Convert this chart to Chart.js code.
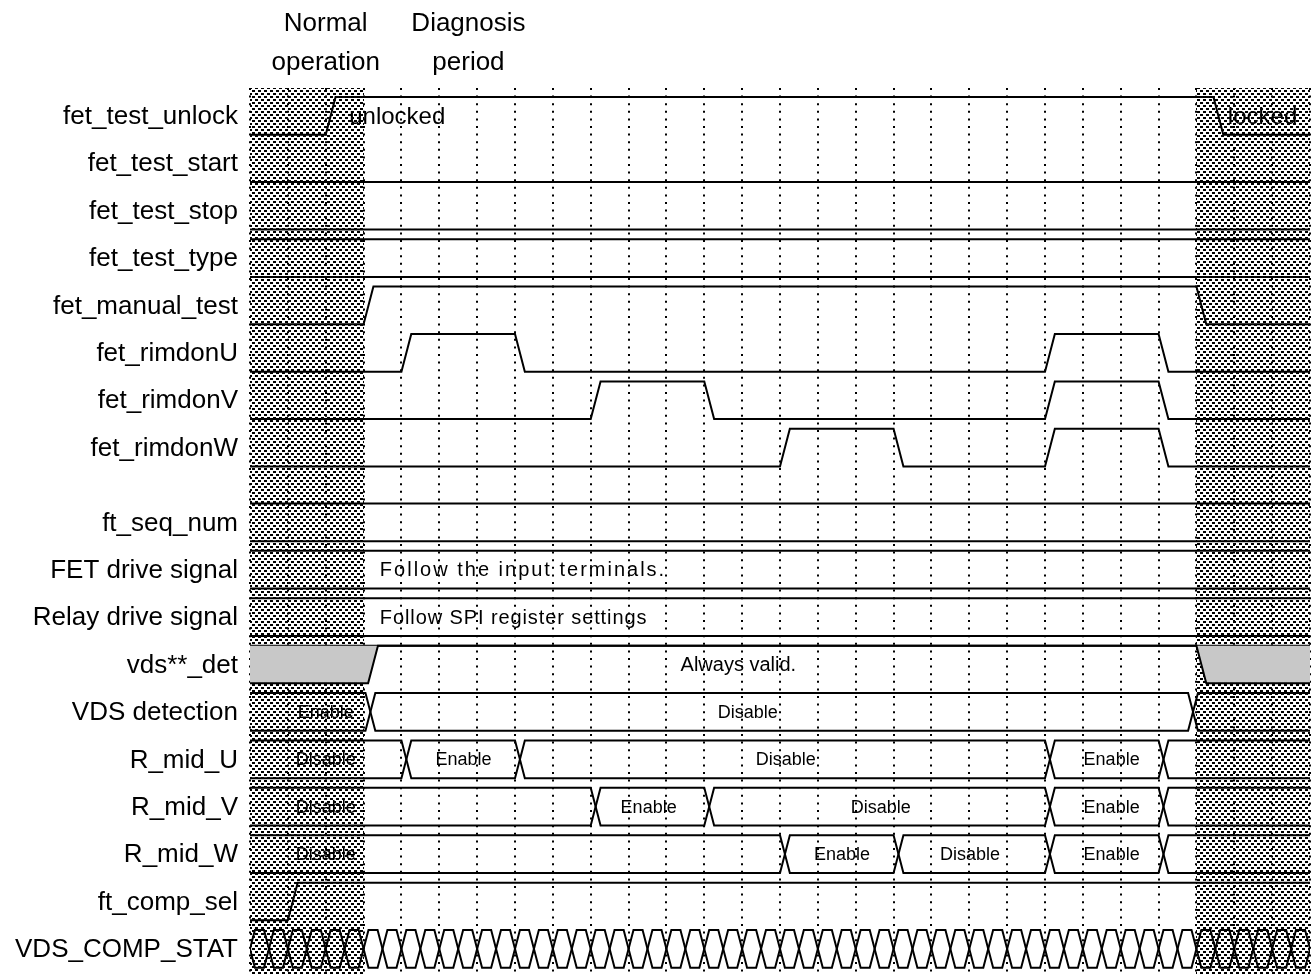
<!DOCTYPE html>
<html>
<head>
<meta charset="utf-8">
<script src="https://cdn.jsdelivr.net/npm/chart.js@4/dist/chart.umd.min.js"></script>
<style>
html, body { margin: 0; background: #fff; }
#wrap { width: 1314px; height: 974px; }
</style>
</head>
<body>
<div id="wrap"><canvas id="chart"></canvas></div>
<script>
// ---- data (time in grid periods, 0..28) ----
const signalNames = ['fet_test_unlock', 'fet_test_start', 'fet_test_stop', 'fet_test_type',
	'fet_manual_test', 'fet_rimdonU', 'fet_rimdonV', 'fet_rimdonW', 'ft_seq_num',
	'FET drive signal', 'Relay drive signal', 'vds**_det', 'VDS detection',
	'R_mid_U', 'R_mid_V', 'R_mid_W', 'ft_comp_sel', 'VDS_COMP_STAT'];

const timeTicks = [0, 1, 2, 3, 4, 5, 6, 7, 8, 9, 10, 11, 12, 13, 14, 15, 16, 17, 18, 19, 20,
	21, 22, 23, 24, 25, 26, 27, 28];

const phaseLines = [['Normal', 'operation'], ['Diagnosis', 'period']];
const phaseTimes = [2, 5.77];

// undefined (hatched) spans
const hatchSpans = [[0, 3], [25, 28]];

// digital waves: all start low, each entry is the time an edge begins
const edgesUnlock = [2, 25.45];
const edgesStart = [];
const edgesStop = [];
const edgesManual = [3, 25];
const edgesRimU = [4, 7, 21, 24];
const edgesRimV = [9, 12, 21, 24];
const edgesRimW = [14, 17, 21, 24];
const edgesVdsDet = [3.12, 25];
const edgesCompSel = [1];

// buses: times where a value change (crossing) begins
const crossTestType = [];
const crossSeqNum = [];
const crossFetDrive = [];
const crossRelay = [];
const crossVdsDetection = [3.05, 24.78];
const crossRmidU = [4, 7, 21, 24];
const crossRmidV = [9, 12, 21, 24];
const crossRmidW = [14, 17, 21, 24];
const crossCompStat = [-0.13, 0.37, 0.87, 1.37, 1.87, 2.37, 2.87, 3.37, 3.87, 4.37, 4.87, 5.37,
	5.87, 6.37, 6.87, 7.37, 7.87, 8.37, 8.87, 9.37, 9.87, 10.37, 10.87, 11.37, 11.87, 12.37,
	12.87, 13.37, 13.87, 14.37, 14.87, 15.37, 15.87, 16.37, 16.87, 17.37, 17.87, 18.37, 18.87,
	19.37, 19.87, 20.37, 20.87, 21.37, 21.87, 22.37, 22.87, 23.37, 23.87, 24.37, 24.87, 25.37,
	25.87, 26.37, 26.87, 27.37, 27.87];

// bus values [text, time of text centre]
const valuesVdsDetection = [['Enable', 2], ['Disable', 13.15]];
const valuesRmidU = [['Disable', 2], ['Enable', 5.64], ['Disable', 14.15], ['Enable', 22.76]];
const valuesRmidV = [['Disable', 2], ['Enable', 10.53], ['Disable', 16.66], ['Enable', 22.76]];
const valuesRmidW = [['Disable', 2], ['Enable', 15.64], ['Disable', 19.02], ['Enable', 22.76]];

// free notes [text, row, time]
const notes = [
	['unlocked', 0, 2.62],
	['locked', 0, 25.83],
	['Follow the input terminals.', 9, 3.43],
	['Follow SPI register settings', 10, 3.43],
	['Always valid.', 11, 12.9]
];

// ---- layout / style ----
const rowTop = [0, 1, 2, 3, 4, 5, 6, 7, 8.575, 9.575, 10.575, 11.575, 12.575, 13.575, 14.575,
	15.575, 16.575, 17.575];
const noteAlign = ['left', 'left', 'left', 'left', 'center'];
const noteSize = [24, 24, 20, 20, 20];
const noteSpacing = [0, 0, 2, 0.9, 0];
const AMP = 0.795;     // high -> low distance in row units
const EDGE = 0.26;     // edge / crossing width in time units
const GRID_TOP = -0.19;
const FONT = '"Liberation Sans", Arial, sans-serif';

function waveData(row, edges) {
	const hi = rowTop[row], lo = hi + AMP;
	let level = 0;
	const pts = [{x: 0, y: lo}];
	edges.forEach(t => {
		pts.push({x: t, y: level ? hi : lo});
		level = 1 - level;
		pts.push({x: t + EDGE, y: level ? hi : lo});
	});
	pts.push({x: 28, y: level ? hi : lo});
	return pts;
}

function busData(row, crosses) {
	const hi = rowTop[row], lo = hi + AMP;
	const a = [{x: -1, y: hi}], b = [{x: -1, y: lo}];
	let flip = false;
	crosses.forEach(t => {
		a.push({x: t, y: flip ? lo : hi}, {x: t + EDGE, y: flip ? hi : lo});
		b.push({x: t, y: flip ? hi : lo}, {x: t + EDGE, y: flip ? lo : hi});
		flip = !flip;
	});
	a.push({x: 29, y: flip ? lo : hi});
	b.push({x: 29, y: flip ? hi : lo});
	return [a, b];
}

function line(data, extra) {
	return Object.assign({data: data, showLine: true, borderColor: '#000', borderWidth: 2,
		pointRadius: 0, fill: false}, extra || {});
}

let datasets = [];
[[0, edgesUnlock], [1, edgesStart], [2, edgesStop], [4, edgesManual], [5, edgesRimU],
	[6, edgesRimV], [7, edgesRimW], [16, edgesCompSel]].forEach(([row, edges]) => {
	datasets.push(line(waveData(row, edges)));
});
[[3, crossTestType], [8, crossSeqNum], [9, crossFetDrive], [10, crossRelay],
	[12, crossVdsDetection], [13, crossRmidU], [14, crossRmidV], [15, crossRmidW],
	[17, crossCompStat]].forEach(([row, crosses]) => {
	busData(row, crosses).forEach(d => datasets.push(line(d)));
});
// vds**_det: grey while not valid, top border always drawn
datasets.push(line(waveData(11, edgesVdsDet), {fill: {value: rowTop[11]}, backgroundColor: '#c8c8c8'}));
datasets.push(line([{x: 0, y: rowTop[11]}, {x: 28, y: rowTop[11]}]));

function hatchPattern(ctx) {
	const c = document.createElement('canvas');
	c.width = 6; c.height = 6;
	const g = c.getContext('2d');
	g.fillStyle = '#000';
	g.fillRect(0, 0, 3, 2);
	g.fillRect(3, 3, 3, 2);
	return ctx.createPattern(c, 'repeat');
}

const backdrop = {
	id: 'backdrop',
	beforeDatasetsDraw(chart) {
		const {ctx, chartArea, scales: {x, y}} = chart;
		const top = y.getPixelForValue(GRID_TOP), bottom = chartArea.bottom;
		ctx.save();
		ctx.fillStyle = hatchPattern(ctx);
		hatchSpans.forEach(([a, b]) => {
			const xa = Math.round(x.getPixelForValue(a)), xb = Math.round(x.getPixelForValue(b));
			ctx.fillRect(xa, Math.round(top), xb - xa, bottom - Math.round(top));
		});
		ctx.strokeStyle = '#000';
		ctx.lineWidth = 2;
		ctx.setLineDash([2, 5.6]);
		timeTicks.forEach(t => {
			const px = Math.round(x.getPixelForValue(t));
			ctx.beginPath();
			ctx.moveTo(px, top);
			ctx.lineTo(px, bottom);
			ctx.stroke();
		});
		ctx.restore();
	}
};

const texts = {
	id: 'texts',
	afterDatasetsDraw(chart) {
		const {ctx, scales: {x, y}} = chart;
		const mid = row => y.getPixelForValue(rowTop[row] + 0.42);
		ctx.save();
		ctx.fillStyle = '#000';
		ctx.textBaseline = 'middle';
		// signal names
		ctx.font = '26px ' + FONT;
		ctx.textAlign = 'right';
		signalNames.forEach((name, i) => ctx.fillText(name, 238, mid(i)));
		// phase headers
		ctx.textAlign = 'center';
		phaseLines.forEach((lines, i) => {
			const px = x.getPixelForValue(phaseTimes[i]);
			ctx.fillText(lines[0], px, y.getPixelForValue(-1.54));
			ctx.fillText(lines[1], px, y.getPixelForValue(-0.72));
		});
		// bus values
		ctx.font = '18px ' + FONT;
		[[12, valuesVdsDetection], [13, valuesRmidU], [14, valuesRmidV], [15, valuesRmidW]].forEach(([row, vals]) => {
			vals.forEach(([txt, t]) => ctx.fillText(txt, x.getPixelForValue(t), mid(row)));
		});
		// notes
		notes.forEach(([txt, row, t], i) => {
			ctx.font = noteSize[i] + 'px ' + FONT;
			ctx.letterSpacing = noteSpacing[i] + 'px';
			ctx.textAlign = noteAlign[i];
			ctx.fillText(txt, x.getPixelForValue(t), mid(row));
		});
		ctx.restore();
	}
};

new Chart(document.getElementById('chart'), {
	type: 'scatter',
	data: {datasets: datasets},
	options: {
		responsive: true,
		maintainAspectRatio: false,
		animation: false,
		layout: {padding: {left: 250, right: 4, top: 0, bottom: 0}},
		elements: {line: {tension: 0}, point: {radius: 0}},
		plugins: {legend: {display: false}, tooltip: {enabled: false}},
		scales: {
			x: {type: 'linear', min: 0, max: 28, display: false},
			y: {type: 'linear', min: -2.0464, max: 18.502, reverse: true, display: false}
		}
	},
	plugins: [backdrop, texts]
});
</script>
</body>
</html>
